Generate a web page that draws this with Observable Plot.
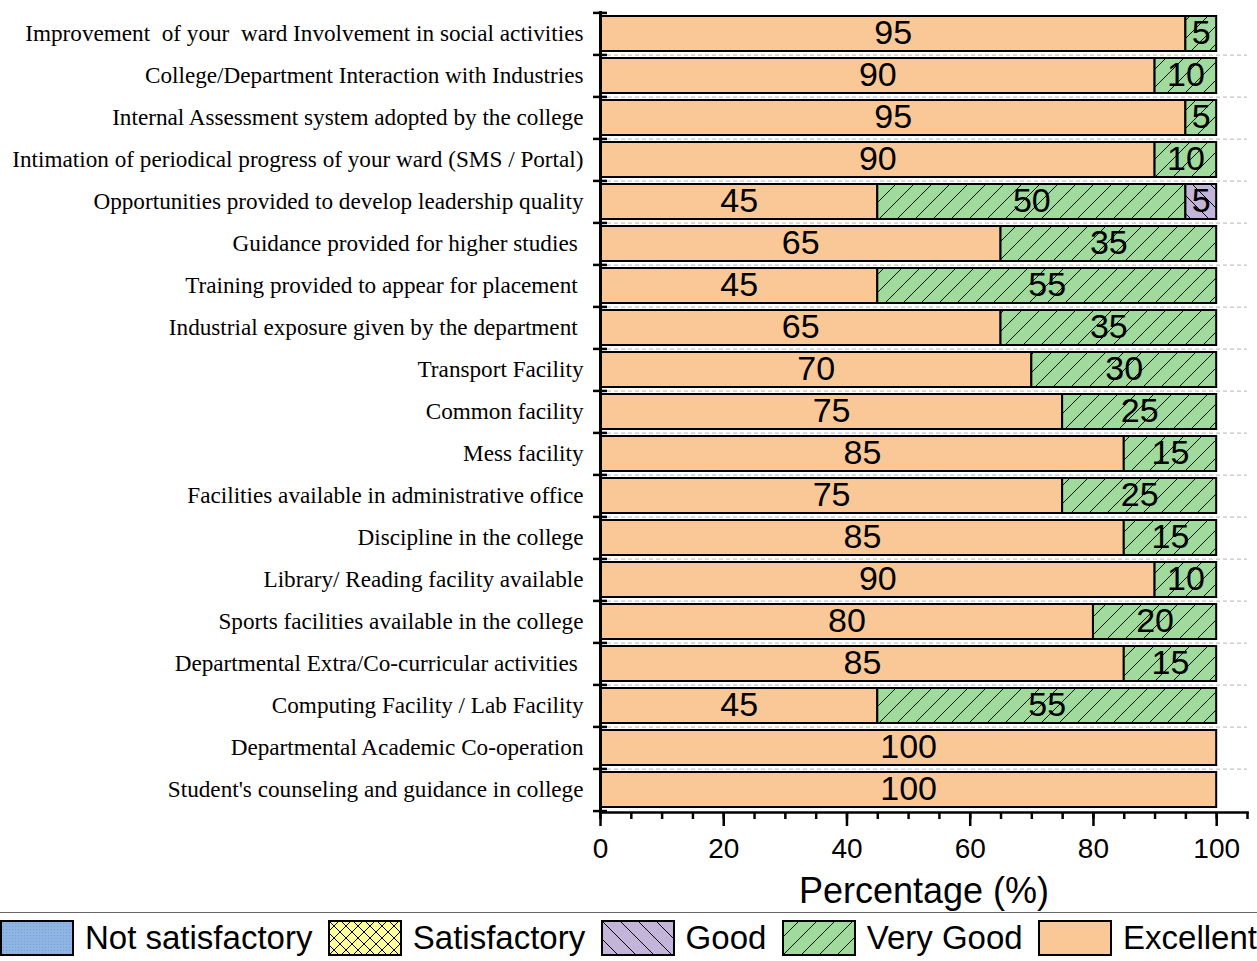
<!DOCTYPE html>
<html><head><meta charset="utf-8">
<script src="https://cdn.jsdelivr.net/npm/d3@7"></script>
<script src="https://cdn.jsdelivr.net/npm/@observablehq/plot@0.6"></script>
<style>
body{margin:0;background:#fff;font-family:"Liberation Sans",Arial,sans-serif;}
#chart svg text{white-space:pre;}
#legend{display:flex;justify-content:space-between;align-items:center;border-top:1.5px solid #666;margin-top:2px;padding-top:7px;width:1257px;box-sizing:border-box}
.item{display:flex;align-items:center}
.item span{font-size:33px;margin-left:11px;line-height:36px;color:#000}
</style></head><body>
<svg width="0" height="0" style="position:absolute">
<defs>
<pattern id="pNS" patternUnits="userSpaceOnUse" width="3" height="3"><rect width="3" height="3" fill="#8DB4E3"/><rect width="1" height="1" fill="#7A9FD0"/></pattern>
<pattern id="pS" patternUnits="userSpaceOnUse" width="12" height="12"><rect width="12" height="12" fill="#FFFF99"/><path d="M0,0L12,12M12,0L0,12" stroke="#000" stroke-width="1"/></pattern>
<pattern id="pG" patternUnits="userSpaceOnUse" width="18" height="18"><rect width="18" height="18" fill="#C3B4D9"/><path d="M0,0L18,18M-2,16L2,20M16,-2L20,2" stroke="#000" stroke-width="1"/></pattern>
<pattern id="pVG" patternUnits="userSpaceOnUse" width="18" height="18"><rect width="18" height="18" fill="#A0DA9C"/><path d="M0,18L18,0M-2,2L2,-2M16,20L20,16" stroke="#000" stroke-width="1"/></pattern>
</defs></svg>
<div id="chart"></div>
<div id="legend"></div>
<script>
const categories = [
  "Improvement  of your  ward Involvement in social activities",
  "College/Department Interaction with Industries",
  "Internal Assessment system adopted by the college",
  "Intimation of periodical progress of your ward (SMS / Portal)",
  "Opportunities provided to develop leadership quality",
  "Guidance provided for higher studies ",
  "Training provided to appear for placement ",
  "Industrial exposure given by the department ",
  "Transport Facility",
  "Common facility",
  "Mess facility",
  "Facilities available in administrative office",
  "Discipline in the college",
  "Library/ Reading facility available",
  "Sports facilities available in the college",
  "Departmental Extra/Co-curricular activities ",
  "Computing Facility / Lab Facility",
  "Departmental Academic Co-operation",
  "Student's counseling and guidance in college"
];
const excellent       = [95, 90, 95, 90, 45, 65, 45, 65, 70, 75, 85, 75, 85, 90, 80, 85, 45, 100, 100];
const veryGood        = [ 5, 10,  5, 10, 50, 35, 55, 35, 30, 25, 15, 25, 15, 10, 20, 15, 55,   0,   0];
const good            = [ 0,  0,  0,  0,  5,  0,  0,  0,  0,  0,  0,  0,  0,  0,  0,  0,  0,   0,   0];
const satisfactory    = [ 0,  0,  0,  0,  0,  0,  0,  0,  0,  0,  0,  0,  0,  0,  0,  0,  0,   0,   0];
const notSatisfactory = [ 0,  0,  0,  0,  0,  0,  0,  0,  0,  0,  0,  0,  0,  0,  0,  0,  0,   0,   0];
const legendNames = ["Not satisfactory", "Satisfactory", "Good", "Very Good", "Excellent"];
const xTicks = [0, 20, 40, 60, 80, 100];
const xMinorTicks = [0, 5, 10, 15, 20, 25, 30, 35, 40, 45, 50, 55, 60, 65, 70, 75, 80, 85, 90, 95, 100, 105];
const xLabel = "Percentage (%)";

const fills = {
  "Not satisfactory": "url(#pNS)",
  "Satisfactory": "url(#pS)",
  "Good": "url(#pG)",
  "Very Good": "url(#pVG)",
  "Excellent": "#FAC896"
};
const stackSeries = [
  ["Excellent", excellent],
  ["Very Good", veryGood],
  ["Good", good],
  ["Satisfactory", satisfactory],
  ["Not satisfactory", notSatisfactory]
];
const data = [];
categories.forEach((cat, i) => {
  for (const [name, vals] of stackSeries) {
    if (vals[i] > 0) data.push({cat, series: name, value: vals[i]});
  }
});

const W = 1257, H = 910, mT = 11, mB = 98, mL = 600, mR = 10;
const step = (H - mT - mB) / categories.length;

const chart = Plot.plot({
  width: W, height: H,
  marginLeft: mL, marginRight: mR, marginTop: mT, marginBottom: mB,
  style: {fontFamily: "'Liberation Sans', Arial, sans-serif", background: "white", color: "black", overflow: "visible"},
  x: {domain: [0, 105], label: null},
  y: {domain: categories, paddingInner: 0.17, paddingOuter: 0.085, label: null},
  color: {type: "identity"},
  marks: [
    Plot.ruleY(categories.slice(0, -1), {dy: step / 2, stroke: "#c4c4c4", strokeDasharray: "4,3", strokeWidth: 1.2}),
    Plot.barX(data, Plot.stackX({x: "value", y: "cat", fill: d => fills[d.series], stroke: "black", strokeWidth: 2})),
    Plot.text(data, Plot.stackX({x: "value", y: "cat", text: "value", fontSize: 34, dy: -1, fill: "black"})),
    Plot.ruleX([0], {stroke: "black", strokeWidth: 3}),
    Plot.frame({anchor: "bottom", stroke: "black", strokeWidth: 2.5}),
    Plot.axisY({tickSize: 0, tickPadding: 17, fontSize: 23.2, fontFamily: "'Liberation Serif', 'Times New Roman', serif", label: null}),
    Plot.axisY(categories, {tickSize: 14, dx: 7, dy: -step / 2, tickFormat: () => "", strokeWidth: 2.5, label: null}),
    Plot.axisY([categories[categories.length - 1]], {tickSize: 14, dx: 7, dy: step / 2, tickFormat: () => "", strokeWidth: 2.5, label: null}),
    Plot.axisX(xMinorTicks, {tickSize: 7, tickFormat: () => "", strokeWidth: 2.5, label: null}),
    Plot.axisX(xTicks, {tickSize: 14, tickPadding: 12, fontSize: 28, strokeWidth: 2.5, label: null}),
    Plot.axisX([], {label: xLabel, labelAnchor: "center", labelOffset: 90, fontSize: 36, labelArrow: "none"})
  ]
});
document.getElementById("chart").appendChild(chart);

const legend = document.getElementById("legend");
for (const name of legendNames) {
  const item = document.createElement("div");
  item.className = "item";
  item.innerHTML = `<svg width="74" height="36"><rect x="1" y="1" width="72" height="34" fill="${fills[name]}" stroke="black" stroke-width="2"/></svg><span>${name}</span>`;
  legend.appendChild(item);
}
</script>
</body></html>
